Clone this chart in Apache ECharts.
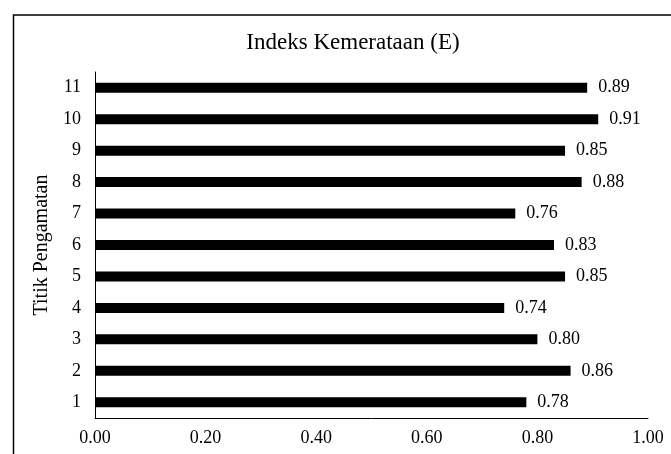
<!DOCTYPE html>
<html>
<head>
<meta charset="utf-8">
<script src="https://cdn.jsdelivr.net/npm/echarts@6/dist/echarts.min.js"></script>
<style>
html,body{margin:0;padding:0;background:#fff;}
#c{width:671px;height:454px;}
</style>
</head>
<body>
<div id="c"></div>
<script>
const titleText = "Indeks Kemerataan (E)";
const yAxisName = "Titik Pengamatan";
const categories = ["1","2","3","4","5","6","7","8","9","10","11"];
const values = [0.78, 0.86, 0.80, 0.74, 0.85, 0.83, 0.76, 0.88, 0.85, 0.91, 0.89];
const xMin = 0, xMax = 1, xStep = 0.2;

const FONT = "'Liberation Serif', 'Times New Roman', serif";
const chart = echarts.init(document.getElementById('c'), null, {renderer: 'canvas'});
chart.setOption({
  animation: false,
  backgroundColor: '#fff',
  title: {
    text: titleText,
    left: 348, top: 26, textAlign: 'center',
    textStyle: {fontFamily: FONT, fontSize: 23, fontWeight: 'normal', color: '#000'}
  },
  graphic: [{
    type: 'rect', left: 11, top: 12.5, silent: true,
    shape: {width: 700, height: 500},
    style: {fill: 'none', stroke: '#000', lineWidth: 1.5}
  }],
  grid: {left: 95, right: 23, top: 72, bottom: 36, containLabel: false},
  xAxis: {
    type: 'value', min: xMin, max: xMax, interval: xStep,
    axisLine: {show: true, lineStyle: {color: '#000', width: 1}},
    axisTick: {show: false},
    splitLine: {show: false},
    axisLabel: {
      fontFamily: FONT, fontSize: 18, color: '#000', margin: 11,
      formatter: v => v.toFixed(2)
    }
  },
  yAxis: {
    type: 'category', data: categories,
    name: yAxisName, nameLocation: 'middle', nameGap: 40, nameRotate: 90,
    nameTextStyle: {fontFamily: FONT, fontSize: 20, color: '#000'},
    axisLine: {show: true, lineStyle: {color: '#000', width: 1}},
    axisTick: {show: false},
    axisLabel: {fontFamily: FONT, fontSize: 18, color: '#000', margin: 14}
  },
  series: [{
    type: 'bar', data: values, barWidth: 10,
    itemStyle: {color: '#000'},
    label: {
      show: true, position: 'right', distance: 11,
      fontFamily: FONT, fontSize: 18, color: '#000',
      formatter: p => p.value.toFixed(2)
    }
  }]
});
</script>
</body>
</html>
